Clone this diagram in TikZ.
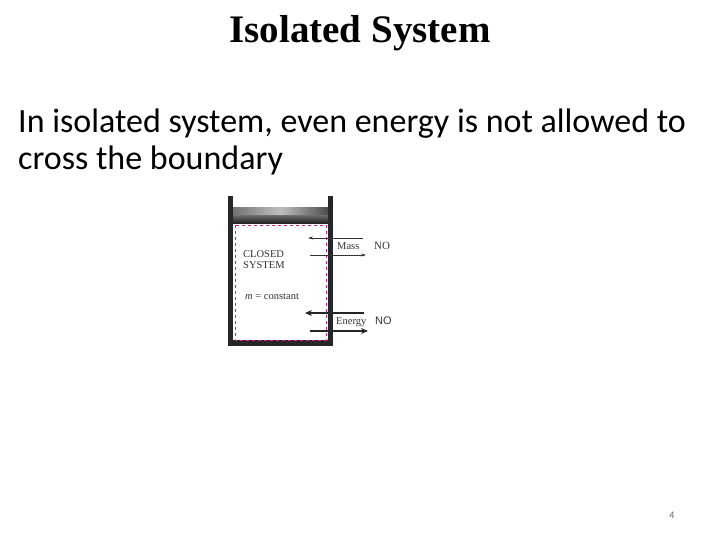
\documentclass[tikz,border=0pt]{standalone}
\usepackage{fontspec}
\setmainfont{Liberation Serif}
\newfontfamily\body{Carlito}
\newfontfamily\arial{Liberation Sans}
\begin{document}
\begin{tikzpicture}[x=1pt,y=-1pt,
  wall/.style={fill=black!85,draw=none},
  thin/.style={-{Stealth[length=5pt,width=3pt]},line width=0.5pt,black!80},
  thick/.style={-{Stealth[length=7pt,width=6pt]},line width=2.2pt,black!85},
  lab/.style={font=\fontsize{10.5}{11}\selectfont,inner sep=0pt,anchor=west,black!80},
  bodytxt/.style={font=\body\fontsize{34}{34}\selectfont,anchor=base west,inner sep=0pt}]
\usetikzlibrary{arrows.meta}
\path[use as bounding box,fill=white] (0,0) rectangle (720,540);
\node[font=\bfseries\fontsize{39}{39}\selectfont,anchor=base,inner sep=0pt] (title) at (360,43) {Isolated System};
\node[bodytxt] (l1) at (18,133) {In isolated system, even energy is not allowed to};
\node[bodytxt] (l2) at (18,170) {cross the boundary};
\fill[wall] (228,196) rectangle (233,346);
\fill[wall] (328,196) rectangle (333,346);
\fill[wall] (228,340) rectangle (333,346);
\shade[left color=black!55,right color=black!70,middle color=black!25] (233,208) rectangle (328,216);
\shade[top color=black!60,bottom color=black!90] (233,216) rectangle (328,224);
\draw[magenta!80!black,dashed,line width=0.6pt] (235,225) rectangle (326,340);
\node[lab,anchor=north west,align=left] (cs) at (243,250) {CLOSED\\SYSTEM};
\node[lab] (mc) at (245,297) {\textit{m} = constant};
\coordinate (m1a) at (363,238); \coordinate (m1b) at (308,238);
\coordinate (m2a) at (310,255); \coordinate (m2b) at (366,255);
\draw[thin] (m1a) -- (m1b);
\draw[thin] (m2a) -- (m2b);
\node[lab] (mass) at (337,246) {Mass};
\node[lab,font=\fontsize{11}{11}\selectfont] (no1) at (374,246) {NO};
\coordinate (e1a) at (364,313); \coordinate (e1b) at (305,313);
\coordinate (e2a) at (310,331); \coordinate (e2b) at (368,331);
\draw[thick] (e1a) -- (e1b);
\draw[thick] (e2a) -- (e2b);
\node[lab] (en) at (336,322) {Energy};
\node[lab,font=\arial\fontsize{11}{11}\selectfont] (no2) at (375,321) {NO};
\node[font=\body\fontsize{10}{10}\selectfont,text=black!60] (pg) at (672,515) {4};
\end{tikzpicture}
\end{document}
